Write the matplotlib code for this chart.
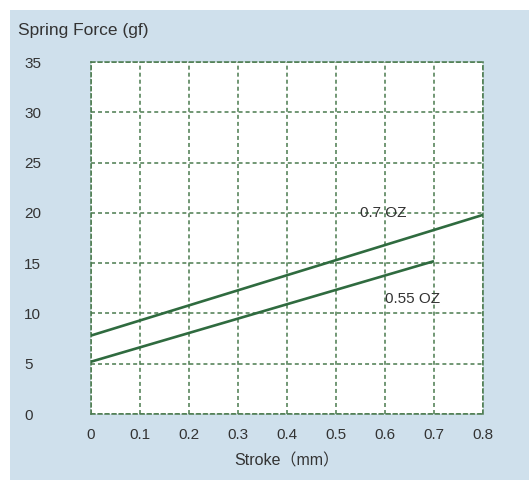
import matplotlib
matplotlib.use("Agg")
import matplotlib.pyplot as plt
from matplotlib.patches import Rectangle

plt.rcParams['font.family'] = ['Liberation Sans', 'Noto Sans CJK SC', 'DejaVu Sans']

# data
stroke_07 = [0.0, 0.8]
force_07 = [7.8, 19.8]
stroke_055 = [0.0, 0.7]
force_055 = [5.2, 15.2]
x_ticks = [0, 0.1, 0.2, 0.3, 0.4, 0.5, 0.6, 0.7, 0.8]
x_labels = ['0', '0.1', '0.2', '0.3', '0.4', '0.5', '0.6', '0.7', '0.8']
y_ticks = [0, 5, 10, 15, 20, 25, 30, 35]

bg = '#cfe0ec'
green = '#2f6b3f'
grid_c = '#4a7a4e'

fig = plt.figure(figsize=(5.29, 4.82), dpi=100)
fig.patch.set_facecolor('white')
# blue panel behind the chart
fig.patches.append(Rectangle((10 / 529, 2 / 482), 519 / 529, 470 / 482,
                             transform=fig.transFigure, facecolor=bg,
                             edgecolor='none', zorder=-10))

ax = fig.add_axes([91 / 529, 68 / 482, 392 / 529, 352 / 482])
ax.set_facecolor('white')
ax.set_xlim(0, 0.8)
ax.set_ylim(0, 35)

ax.plot(stroke_07, force_07, color=green, lw=1.9, solid_capstyle='butt', zorder=3)
ax.plot(stroke_055, force_055, color=green, lw=1.9, solid_capstyle='butt', zorder=3)

ax.set_xticks(x_ticks)
ax.set_xticklabels(x_labels)
ax.set_yticks(y_ticks)
ax.tick_params(length=0, labelsize=11, colors='#333333')
ax.tick_params(axis='x', pad=10)
ax.tick_params(axis='y', pad=48)
for lab in ax.get_yticklabels():
    lab.set_horizontalalignment('left')

dash = (0, (2.6, 2))
ax.grid(True, color=grid_c, linestyle=dash, lw=1.1)
for s in ax.spines.values():
    s.set_color(grid_c)
    s.set_linestyle(dash)
    s.set_linewidth(1.1)

ax.text(0.549, 20.0, '0.7 OZ', fontsize=11, color='#333333', va='center')
ax.text(0.6, 11.4, '0.55 OZ', fontsize=11, color='#333333', va='center')

fig.text(18 / 529, 1 - 30 / 482, 'Spring Force (gf)', fontsize=12.5,
         color='#333333', va='center', ha='left')
ax.set_xlabel('Stroke（mm）', fontsize=11.5, color='#333333', labelpad=8)

fig.savefig('out.png', dpi=100, facecolor=fig.get_facecolor())
